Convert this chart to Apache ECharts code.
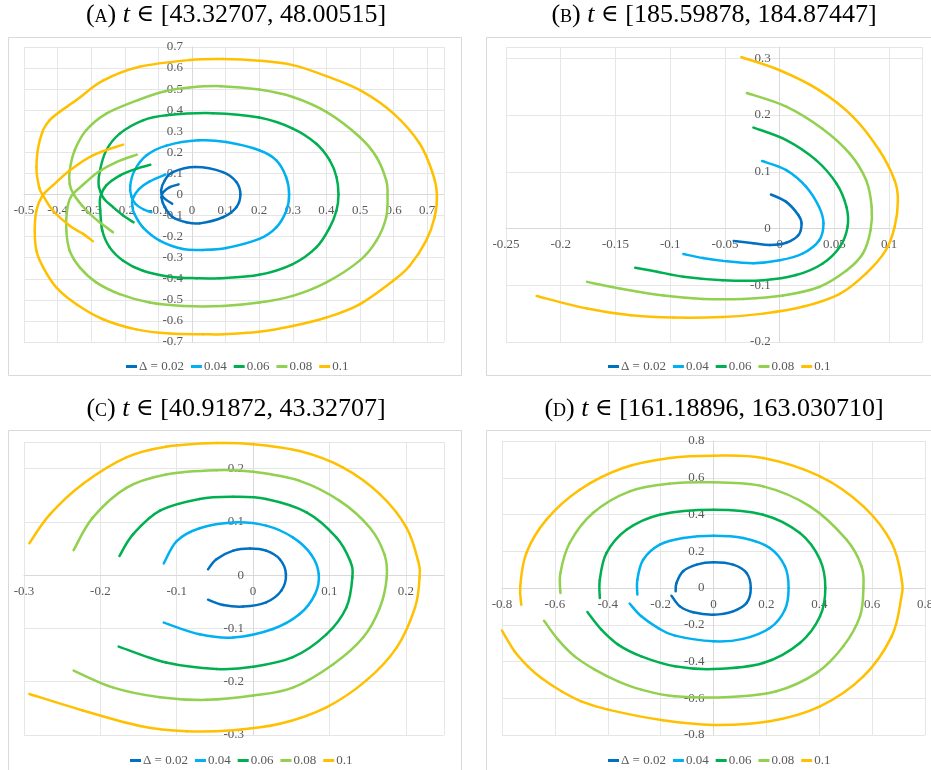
<!DOCTYPE html>
<html>
<head>
<meta charset="utf-8">
<script src="https://cdn.jsdelivr.net/npm/echarts@6/dist/echarts.min.js"></script>
<style>
  html, body { margin: 0; background: #fff; }
  #chart { width: 931px; height: 770px; }
</style>
</head>
<body>
<div id="chart"></div>
<script>
// legend labels, one per step size
var stepNames = ['Δ = 0.02', '0.04', '0.06', '0.08', '0.1'];

// panel A  t in [43.32707, 48.00515]
var a002 = [[-0.04,0.048],[-0.066,0.035],[-0.086,0.011],[-0.091,-0.013],[-0.081,-0.06],[-0.057,-0.108],[-0.017,-0.132],[0.023,-0.137],[0.092,-0.108],[0.132,-0.06],[0.144,0],[0.132,0.059],[0.092,0.106],[0.01,0.13],[-0.057,0.106],[-0.081,0.067],[-0.092,0.019],[-0.086,-0.013],[-0.059,-0.044]];
var a004 = [[-0.079,0.095],[-0.126,0.062],[-0.158,0.025],[-0.176,-0.02],[-0.178,-0.05],[-0.172,-0.09],[-0.146,-0.156],[-0.096,-0.219],[-0.027,-0.259],[0.033,-0.263],[0.102,-0.254],[0.2,-0.211],[0.251,-0.156],[0.281,-0.076],[0.289,0],[0.28,0.083],[0.251,0.162],[0.2,0.21],[0.102,0.249],[0.02,0.257],[-0.076,0.232],[-0.136,0.185],[-0.171,0.114],[-0.184,0.04],[-0.18,-0.01],[-0.168,-0.045],[-0.145,-0.07],[-0.121,-0.084]];
var a006 = [[-0.124,0.141],[-0.166,0.122],[-0.215,0.09],[-0.255,0.043],[-0.273,-0.013],[-0.273,-0.076],[-0.267,-0.171],[-0.245,-0.251],[-0.205,-0.314],[-0.146,-0.362],[-0.066,-0.39],[0.013,-0.397],[0.082,-0.397],[0.2,-0.381],[0.3,-0.33],[0.37,-0.251],[0.41,-0.156],[0.43,-0.076],[0.436,0],[0.43,0.083],[0.41,0.162],[0.37,0.241],[0.3,0.313],[0.2,0.365],[0.062,0.386],[-0.076,0.376],[-0.146,0.352],[-0.215,0.289],[-0.255,0.21],[-0.275,0.106],[-0.277,0.035],[-0.262,-0.02],[-0.235,-0.06],[-0.205,-0.1],[-0.174,-0.132]];
var a008 = [[-0.164,0.189],[-0.225,0.154],[-0.28,0.106],[-0.325,0.045],[-0.36,-0.01],[-0.372,-0.076],[-0.374,-0.171],[-0.364,-0.267],[-0.334,-0.346],[-0.285,-0.417],[-0.215,-0.473],[-0.126,-0.513],[-0.027,-0.529],[0.092,-0.529],[0.2,-0.513],[0.3,-0.481],[0.4,-0.417],[0.499,-0.314],[0.549,-0.219],[0.578,-0.108],[0.582,0],[0.578,0.067],[0.549,0.178],[0.499,0.273],[0.4,0.392],[0.3,0.463],[0.2,0.498],[0.087,0.514],[-0.007,0.508],[-0.08,0.49],[-0.161,0.448],[-0.255,0.384],[-0.315,0.305],[-0.349,0.21],[-0.364,0.114],[-0.364,0.05],[-0.352,0],[-0.314,-0.076],[-0.275,-0.132],[-0.235,-0.179]];
var a010 = [[-0.205,0.237],[-0.295,0.186],[-0.364,0.114],[-0.414,0.043],[-0.445,-0.005],[-0.463,-0.076],[-0.468,-0.171],[-0.463,-0.267],[-0.443,-0.346],[-0.404,-0.441],[-0.344,-0.521],[-0.265,-0.592],[-0.166,-0.64],[-0.066,-0.66],[0.033,-0.663],[0.092,-0.663],[0.2,-0.651],[0.3,-0.624],[0.4,-0.584],[0.499,-0.521],[0.598,-0.41],[0.648,-0.338],[0.697,-0.219],[0.722,-0.108],[0.729,0],[0.717,0.098],[0.678,0.241],[0.6,0.384],[0.5,0.495],[0.4,0.562],[0.3,0.614],[0.2,0.635],[0.092,0.643],[-0.007,0.638],[-0.156,0.606],[-0.265,0.54],[-0.344,0.448],[-0.424,0.352],[-0.453,0.257],[-0.463,0.13],[-0.455,0.035],[-0.445,0],[-0.414,-0.076],[-0.364,-0.148],[-0.324,-0.187],[-0.295,-0.222]];

// panel B  t in [185.59878, 184.87447]
var b002 = [[-0.008,0.06],[0.006,0.047],[0.017,0.024],[0.02,0.009],[0.017,-0.012],[0.006,-0.025],[-0.009,-0.029],[-0.024,-0.026],[-0.042,-0.022]];
var b004 = [[-0.016,0.119],[0.006,0.103],[0.024,0.074],[0.036,0.038],[0.04,0.009],[0.036,-0.021],[0.021,-0.044],[0,-0.056],[-0.024,-0.061],[-0.052,-0.057],[-0.07,-0.052],[-0.088,-0.045]];
var b006 = [[-0.024,0.178],[0.006,0.156],[0.033,0.121],[0.052,0.079],[0.061,0.038],[0.062,0.003],[0.055,-0.032],[0.039,-0.062],[0.015,-0.082],[-0.015,-0.091],[-0.052,-0.091],[-0.088,-0.085],[-0.112,-0.076],[-0.132,-0.069]];
var b008 = [[-0.03,0.239],[0.006,0.215],[0.039,0.176],[0.064,0.132],[0.079,0.085],[0.084,0.038],[0.083,-0.003],[0.076,-0.044],[0.061,-0.074],[0.036,-0.103],[0.003,-0.118],[-0.033,-0.124],[-0.07,-0.124],[-0.106,-0.118],[-0.145,-0.106],[-0.176,-0.094]];
var b010 = [[-0.035,0.302],[0,0.279],[0.036,0.244],[0.067,0.197],[0.091,0.138],[0.105,0.085],[0.108,0.05],[0.105,0.003],[0.097,-0.038],[0.079,-0.079],[0.055,-0.115],[0.021,-0.138],[-0.015,-0.15],[-0.052,-0.156],[-0.097,-0.157],[-0.136,-0.153],[-0.176,-0.141],[-0.222,-0.119]];

// panel C  t in [40.91872, 43.32707]
var c002 = [[-0.059,0.011],[-0.048,0.03],[-0.026,0.046],[-0.004,0.05],[0.017,0.046],[0.035,0.03],[0.043,0.002],[0.037,-0.029],[0.017,-0.051],[-0.013,-0.059],[-0.039,-0.056],[-0.059,-0.046]];
var c004 = [[-0.117,0.022],[-0.1,0.064],[-0.07,0.088],[-0.026,0.099],[0.017,0.093],[0.052,0.071],[0.076,0.039],[0.086,0.002],[0.081,-0.036],[0.061,-0.073],[0.026,-0.101],[-0.026,-0.117],[-0.07,-0.111],[-0.117,-0.089]];
var c006 = [[-0.175,0.036],[-0.157,0.077],[-0.122,0.121],[-0.07,0.143],[-0.026,0.147],[0.017,0.143],[0.07,0.118],[0.109,0.071],[0.127,0.027],[0.13,-0.004],[0.122,-0.061],[0.096,-0.111],[0.052,-0.154],[0,-0.172],[-0.048,-0.176],[-0.114,-0.164],[-0.176,-0.134]];
var c008 = [[-0.235,0.047],[-0.21,0.108],[-0.166,0.164],[-0.114,0.189],[-0.048,0.197],[0,0.194],[0.061,0.177],[0.114,0.139],[0.153,0.089],[0.172,0.039],[0.175,-0.004],[0.166,-0.061],[0.144,-0.117],[0.105,-0.167],[0.052,-0.211],[0,-0.226],[-0.061,-0.234],[-0.122,-0.229],[-0.183,-0.211],[-0.235,-0.179]];
var c010 = [[-0.293,0.06],[-0.266,0.114],[-0.223,0.171],[-0.166,0.221],[-0.114,0.241],[-0.048,0.248],[0,0.246],[0.061,0.233],[0.118,0.202],[0.166,0.152],[0.201,0.089],[0.216,0.027],[0.218,-0.004],[0.212,-0.061],[0.188,-0.136],[0.148,-0.198],[0.096,-0.248],[0.035,-0.279],[-0.026,-0.291],[-0.087,-0.293],[-0.148,-0.283],[-0.223,-0.254],[-0.293,-0.223]];

// panel D  t in [161.18896, 163.030710]
var d002 = [[-0.143,-0.018],[-0.14,0.027],[-0.115,0.091],[-0.064,0.127],[0,0.14],[0.074,0.127],[0.125,0.082],[0.141,0],[0.125,-0.082],[0.074,-0.127],[0,-0.145],[-0.077,-0.132],[-0.127,-0.1],[-0.159,-0.042]];
var d004 = [[-0.288,-0.036],[-0.288,0.045],[-0.266,0.154],[-0.203,0.236],[-0.115,0.272],[0,0.285],[0.112,0.272],[0.213,0.218],[0.27,0.118],[0.284,0],[0.27,-0.118],[0.213,-0.218],[0.112,-0.277],[0,-0.29],[-0.146,-0.259],[-0.209,-0.218],[-0.273,-0.154],[-0.317,-0.085]];
var d006 = [[-0.43,-0.054],[-0.43,0.045],[-0.405,0.19],[-0.329,0.317],[-0.203,0.399],[0,0.426],[0.188,0.399],[0.327,0.299],[0.403,0.154],[0.423,0],[0.403,-0.154],[0.327,-0.299],[0.188,-0.408],[0,-0.441],[-0.146,-0.426],[-0.273,-0.372],[-0.361,-0.308],[-0.424,-0.227],[-0.477,-0.131]];
var d008 = [[-0.579,-0.027],[-0.579,0.082],[-0.544,0.245],[-0.456,0.408],[-0.317,0.526],[-0.165,0.568],[0,0.575],[0.188,0.553],[0.365,0.444],[0.503,0.263],[0.56,0.118],[0.567,0],[0.554,-0.154],[0.491,-0.317],[0.39,-0.462],[0.238,-0.562],[0.062,-0.593],[-0.146,-0.589],[-0.273,-0.553],[-0.361,-0.508],[-0.449,-0.444],[-0.525,-0.372],[-0.588,-0.281],[-0.641,-0.178]];
var d010 = [[-0.727,-0.091],[-0.731,0.009],[-0.708,0.19],[-0.632,0.372],[-0.506,0.535],[-0.342,0.653],[-0.165,0.707],[0,0.72],[0.188,0.707],[0.403,0.607],[0.567,0.444],[0.674,0.245],[0.712,0.045],[0.709,-0.063],[0.674,-0.263],[0.567,-0.481],[0.403,-0.644],[0.213,-0.725],[0,-0.745],[-0.191,-0.72],[-0.399,-0.662],[-0.5,-0.617],[-0.575,-0.562],[-0.651,-0.49],[-0.702,-0.426],[-0.752,-0.345],[-0.8,-0.232]];

var colors = ['#0070C0', '#00B0F0', '#00B050', '#92D050', '#FFC000'];
var labelFont = 'Liberation Serif';

// layout of the four panels (pixels) and their axis ranges
var panels = [
    {tag: 'A', range: '[43.32707, 48.00515]', cx: 236, ty: 15, box: [8.5, 37.5, 453, 338],
     grid: {left: 24, top: 47, width: 420, height: 295},
     x: {min: -0.5, max: 0.75, step: 0.1, showMax: false}, y: {min: -0.7, max: 0.7, step: 0.1, showMax: true},
     legend: {left: 121, top: 355}, lines: [a002, a004, a006, a008, a010]},
    {tag: 'B', range: '[185.59878, 184.87447]', cx: 714, ty: 15, box: [486.5, 37.5, 460, 338],
     grid: {left: 506, top: 47, width: 416, height: 295},
     x: {min: -0.25, max: 0.13, step: 0.05, showMax: false}, y: {min: -0.2, max: 0.32, step: 0.1, showMax: false},
     legend: {left: 603, top: 355}, lines: [b002, b004, b006, b008, b010]},
    {tag: 'C', range: '[40.91872, 43.32707]', cx: 236, ty: 409, box: [8.5, 430.5, 453, 350],
     grid: {left: 24, top: 442, width: 420, height: 293},
     x: {min: -0.3, max: 0.25, step: 0.1, showMax: false}, y: {min: -0.3, max: 0.25, step: 0.1, showMax: false},
     legend: {left: 125, top: 749}, lines: [c002, c004, c006, c008, c010]},
    {tag: 'D', range: '[161.18896, 163.030710]', cx: 714, ty: 409, box: [486.5, 430.5, 460, 350],
     grid: {left: 502, top: 441, width: 423, height: 294},
     x: {min: -0.8, max: 0.8, step: 0.2, showMax: true}, y: {min: -0.8, max: 0.8, step: 0.2, showMax: true},
     legend: {left: 603, top: 749}, lines: [d002, d004, d006, d008, d010]}
];

// the axes cross at zero: shift each axis from the grid edge to the other axis' zero
function axisOf(a, other, span, i, isX) {
    var shift = -span * (0 - other.min) / (other.max - other.min);
    return {
        type: 'value', gridIndex: i,
        position: isX ? 'bottom' : 'left',
        offset: shift,
        min: a.min, max: a.max, interval: a.step,
        axisLine: {show: true, onZero: false, lineStyle: {color: '#d9d9d9', width: 1}},
        axisTick: {show: false},
        splitLine: {show: true, lineStyle: {color: '#e6e6e6', width: 1}},
        axisLabel: {
            color: '#595959', fontFamily: labelFont, fontSize: 13,
            margin: isX ? 10 : 9, showMaxLabel: a.showMax, showMinLabel: true,
            hideOverlap: false,
            formatter: function (v) { return String(Math.round(v * 1000) / 1000); }
        }
    };
}

// smooth curve through the read points (Catmull-Rom segments in pixel space);
// the built-in line smoothing clamps control points and leaves corners on these loops
function curveItem(pts, color) {
    return function (params, api) {
        var i = params.dataIndex;
        if (i >= pts.length - 1) return null;
        var at = function (k) {
            k = Math.max(0, Math.min(pts.length - 1, k));
            return api.coord(pts[k]);
        };
        var p0 = at(i - 1), p1 = at(i), p2 = at(i + 1), p3 = at(i + 2);
        var t = 1 / 6;
        return {
            type: 'bezierCurve',
            shape: {
                x1: p1[0], y1: p1[1], x2: p2[0], y2: p2[1],
                cpx1: p1[0] + (p2[0] - p0[0]) * t, cpy1: p1[1] + (p2[1] - p0[1]) * t,
                cpx2: p2[0] - (p3[0] - p1[0]) * t, cpy2: p2[1] - (p3[1] - p1[1]) * t
            },
            style: {stroke: color, lineWidth: 2.5, fill: 'none', lineCap: 'round'},
            silent: true
        };
    };
}

var grids = [], xAxes = [], yAxes = [], series = [], legends = [], graphics = [];
panels.forEach(function (p, i) {
    grids.push({left: p.grid.left, top: p.grid.top, width: p.grid.width, height: p.grid.height,
                containLabel: false, outerBoundsMode: 'none'});
    xAxes.push(axisOf(p.x, p.y, p.grid.height, i, true));
    yAxes.push(axisOf(p.y, p.x, p.grid.width, i, false));
    p.lines.forEach(function (pts, k) {
        series.push({
            name: stepNames[k], type: 'custom', xAxisIndex: i, yAxisIndex: i,
            data: pts, encode: {x: 0, y: 1},
            renderItem: curveItem(pts, colors[k]),
            itemStyle: {color: colors[k]},
            animation: false
        });
    });
    legends.push({
        data: stepNames, left: p.legend.left, top: p.legend.top,
        icon: 'rect', itemWidth: 11, itemHeight: 3, itemGap: 7,
        textStyle: {color: '#595959', fontFamily: labelFont, fontSize: 13, padding: [0, 0, 0, -3]},
        selectedMode: false
    });
    graphics.push({
        type: 'rect', silent: true,
        shape: {x: p.box[0], y: p.box[1], width: p.box[2], height: p.box[3]},
        style: {fill: 'none', stroke: '#d9d9d9', lineWidth: 1}
    });
    graphics.push({
        type: 'text', silent: true, x: p.cx, y: p.ty,
        style: {
            text: '({sc|' + p.tag + '}) {it|t} {op|∈} ' + p.range,
            fontSize: 26, fontFamily: labelFont, fill: '#000',
            align: 'center', verticalAlign: 'middle',
            textAlign: 'center', textVerticalAlign: 'middle',
            rich: {
                sc: {fontSize: 18, fontFamily: labelFont, fill: '#000', verticalAlign: 'bottom', padding: [0, 0, 2, 0]},
                it: {fontSize: 26, fontFamily: labelFont, fontStyle: 'italic', fill: '#000'},
                op: {fontSize: 24, fontFamily: 'DejaVu Serif', fill: '#000'}
            }
        }
    });
});

var chart = echarts.init(document.getElementById('chart'), null, {renderer: 'canvas'});
chart.setOption({
    animation: false,
    backgroundColor: '#ffffff',
    color: colors,
    grid: grids,
    xAxis: xAxes,
    yAxis: yAxes,
    legend: legends,
    graphic: graphics,
    series: series
});
</script>
</body>
</html>
